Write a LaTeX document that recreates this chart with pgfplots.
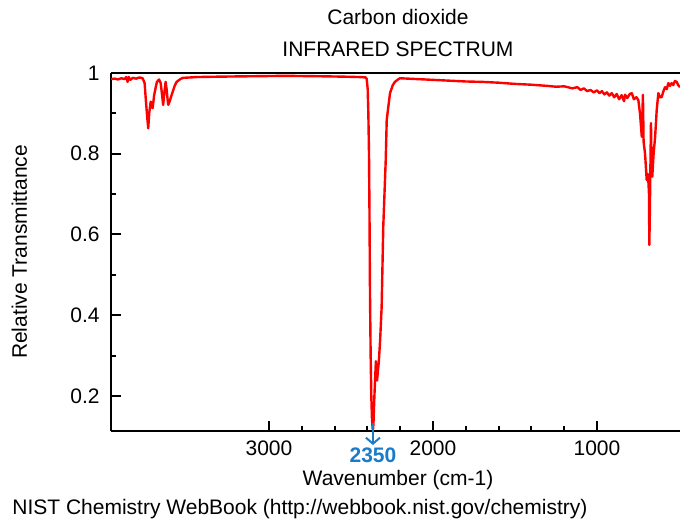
\documentclass[border=0pt]{standalone}
\usepackage{fontspec}
\setmainfont{Liberation Sans}
\usepackage{pgfplots}
\pgfplotsset{compat=1.18}
\usetikzlibrary{arrows.meta}
\definecolor{specred}{HTML}{FF0000}
\definecolor{markblue}{HTML}{1A7BC9}

\begin{document}
\begin{tikzpicture}[font=\fontsize{10.5}{12.5}\selectfont]
\begin{axis}[
    at={(0,0)}, anchor=south west,
    scale only axis, width=284.5pt, height=179pt,
    x dir=reverse,
    xmin=494, xmax=3963,
    ymin=0.113, ymax=1,
    separate axis lines,
    axis x line=box, axis y line=left,
    axis line style={-, line width=1pt, black},
    xtick pos=left, ytick pos=left,
    xtick={1000,2000,3000}, minor x tick num=4,
    ytick={0.2,0.4,0.6,0.8,1}, minor y tick num=1,
    yticklabels={0.2,0.4,0.6,0.8,1},
    tick align=inside,
    major tick length=5pt, minor tick length=2.5pt,
    tick style={line width=1pt, black},
    /pgf/number format/assume math mode=true,
    /pgf/number format/set thousands separator={},
    scaled ticks=false,
    xticklabel style={inner sep=0pt, anchor=base, yshift=-12.5pt},
    yticklabel style={inner sep=0pt, anchor=east, xshift=-5.5pt},
    clip mode=individual,
]
\addplot[specred, line width=1.2pt, line join=round] coordinates {
(3963,0.985) (3940,0.986) (3920,0.984) (3900,0.987) (3880,0.985) (3870,0.990)
(3862,0.978) (3855,0.990) (3845,0.983) (3830,0.988) (3810,0.986) (3790,0.989)
(3770,0.987) (3758,0.975) (3750,0.930) (3742,0.890) (3736,0.863) (3730,0.900)
(3721,0.929) (3714,0.920) (3709,0.913) (3700,0.945) (3690,0.965) (3683,0.978)
(3670,0.984) (3660,0.975) (3650,0.940) (3645,0.921) (3638,0.950) (3630,0.978)
(3624,0.960) (3618,0.935) (3614,0.921) (3605,0.930) (3593,0.946) (3575,0.968)
(3563,0.978) (3540,0.985) (3524,0.988) (3480,0.989) (3441,0.990) (3300,0.991)
(3100,0.992) (2900,0.993) (2700,0.992) (2550,0.991) (2450,0.990) (2410,0.989)
(2404,0.985) (2398,0.960) (2394,0.900) (2390,0.800) (2387,0.650) (2384,0.455)
(2380,0.300) (2376,0.200) (2372,0.145) (2368,0.120) (2366,0.115) (2363,0.130)
(2358,0.190) (2353,0.240) (2348,0.286) (2345,0.245) (2341,0.238) (2336,0.260)
(2330,0.285) (2322,0.340) (2313,0.420) (2303,0.620) (2288,0.785) (2282,0.884)
(2262,0.950) (2245,0.970) (2232,0.978) (2210,0.985) (2200,0.987) (2150,0.986)
(2100,0.985) (2000,0.983) (1900,0.981) (1800,0.979) (1700,0.978) (1600,0.976)
(1500,0.973) (1400,0.971) (1300,0.968) (1250,0.966) (1200,0.967) (1150,0.962)
(1120,0.965) (1100,0.958) (1080,0.962) (1060,0.955) (1040,0.958) (1020,0.952)
(1000,0.957) (985,0.950) (970,0.955) (955,0.947) (940,0.952) (925,0.944)
(910,0.950) (895,0.940) (880,0.948) (865,0.935) (850,0.945) (835,0.930)
(829,0.946) (815,0.938) (800,0.948) (788,0.950) (775,0.935) (760,0.940)
(748,0.933) (738,0.900) (727,0.842) (720,0.946) (716,0.830) (707,0.800)
(697,0.735) (690,0.750) (687,0.733) (683,0.700) (681,0.574) (678,0.650)
(674,0.780) (671,0.876) (668,0.790) (663,0.743) (655,0.800) (646,0.840)
(636,0.908) (626,0.950) (616,0.940) (606,0.940) (595,0.955) (585,0.965)
(575,0.960) (565,0.975) (555,0.968) (545,0.975) (535,0.970) (525,0.980)
(514,0.978) (505,0.970) (494,0.965)
};
\coordinate (peak) at (axis cs:2366,0.113);
\end{axis}
% annotations
\draw[markblue, line width=1pt, -{Straight Barb[length=3pt, width=7pt, line width=1pt]}]
    ([yshift=4pt]peak) -- ([yshift=-7pt]peak);
\node[markblue, font=\fontsize{10.5}{12.5}\selectfont\bfseries, anchor=base, inner sep=0pt] at ([yshift=-16pt]peak) {2350};
\node[anchor=base, inner sep=0pt] at (143.5pt,203pt) {Carbon dioxide};
\node[anchor=base, inner sep=0pt] at (143.5pt,187pt) {INFRARED SPECTRUM};
\node[anchor=base, inner sep=0pt] at (143.5pt,-27.5pt) {Wavenumber (cm-1)};
\node[anchor=base, inner sep=0pt, rotate=90] at (-42pt,89.5pt) {Relative Transmittance};
\node[anchor=base west, inner sep=0pt] at (-49.5pt,-42pt) {NIST Chemistry WebBook (http://webbook.nist.gov/chemistry)};
\pgfresetboundingbox
\path[use as bounding box] (-55.5pt,-44pt) rectangle (284.5pt,215.5pt);
\end{tikzpicture}
\end{document}
